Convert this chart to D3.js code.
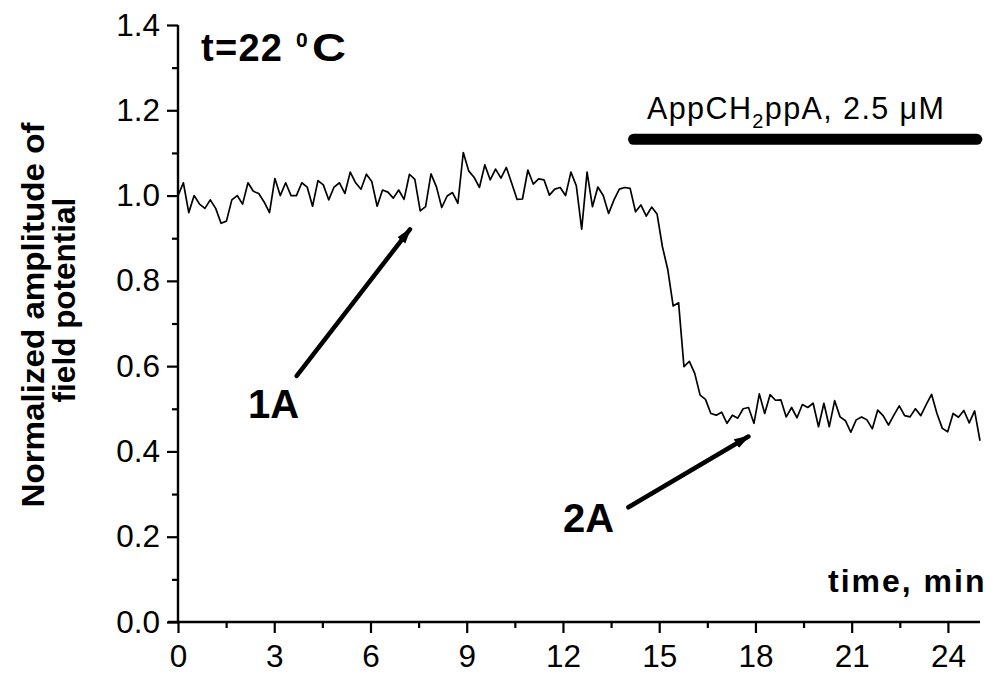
<!DOCTYPE html>
<html>
<head>
<meta charset="utf-8">
<script src="https://cdn.jsdelivr.net/npm/d3@7"></script>
<style>
  html, body { margin: 0; padding: 0; background: #fff; }
  svg { display: block; }
  text { font-family: "Liberation Sans", Arial, Helvetica, sans-serif; fill: #000; }
</style>
</head>
<body>
<svg id="chart" width="996" height="675"></svg>
<script>
// ---- data ----
const timeStart = 0;          // min
const timeEnd = 25;           // min
const amplitude = [
  1.00, 1.03, 0.96, 1.00, 0.98, 0.97, 0.99, 0.97, 0.935, 0.94,
  0.99, 1.00, 0.98, 1.03, 1.01, 1.005, 0.985, 0.96, 1.04, 1.00,
  1.03, 1.00, 1.00, 1.03, 1.02, 0.975, 1.035, 1.025, 0.99, 1.02,
  1.03, 1.005, 1.055, 1.03, 1.015, 1.05, 1.033, 0.975, 1.013, 1.008,
  0.994, 1.013, 0.991, 1.050, 1.038, 0.964, 0.974, 1.051, 1.021, 0.972,
  0.999, 1.007, 0.982, 1.101, 1.058, 1.043, 1.019, 1.072, 1.037, 1.062,
  1.041, 1.066, 1.029, 0.991, 0.992, 1.060, 1.027, 1.039, 1.037, 1.001,
  1.015, 1.019, 1.000, 1.055, 1.023, 0.921, 1.055, 0.974, 1.020, 1.00,
  0.958, 0.99, 1.015, 1.019, 1.017, 0.962, 0.978, 0.952, 0.973, 0.957,
  0.880, 0.826, 0.741, 0.749, 0.599, 0.611, 0.583, 0.532, 0.522, 0.489,
  0.485, 0.492, 0.466, 0.485, 0.478, 0.500, 0.503, 0.466, 0.535, 0.489,
  0.533, 0.520, 0.521, 0.481, 0.503, 0.479, 0.510, 0.503, 0.513, 0.458,
  0.513, 0.458, 0.519, 0.481, 0.472, 0.445, 0.474, 0.481, 0.474, 0.453,
  0.497, 0.484, 0.462, 0.485, 0.507, 0.484, 0.481, 0.500, 0.484, 0.510,
  0.534, 0.489, 0.454, 0.446, 0.489, 0.480, 0.496, 0.467, 0.495, 0.425
];
const xTicks = [0, 3, 6, 9, 12, 15, 18, 21, 24];
const xMinorTicks = [1.5, 4.5, 7.5, 10.5, 13.5, 16.5, 19.5, 22.5];
const yTicks = [0.0, 0.2, 0.4, 0.6, 0.8, 1.0, 1.2, 1.4];
const yMinorTicks = [0.1, 0.3, 0.5, 0.7, 0.9, 1.1, 1.3];
const drugBar = { start: 14.2, end: 24.9, level: 1.132, label: "AppCH", sub: "2", rest: "ppA, 2.5 \u03bcM" };
const arrows = [
  { label: "1A", from: [3.70, 0.577], to: [7.23, 0.921], labelAt: [2.18, 0.478] },
  { label: "2A", from: [14.04, 0.269], to: [17.78, 0.435], labelAt: [12.0, 0.211] }
];

// ---- layout ----
const svg = d3.select("#chart");
const x = d3.scaleLinear().domain([0, 25]).range([178, 980]);
const y = d3.scaleLinear().domain([0, 1.4]).range([622, 25]);
const step = (timeEnd - timeStart) / (amplitude.length - 1);
const series = amplitude.map((v, i) => ({ t: timeStart + i * step, v }));

// axes
const axisStroke = 2.4;
const gx = svg.append("g").attr("transform", `translate(0,${y(0)})`)
  .call(d3.axisBottom(x).tickValues(xTicks).tickSize(11).tickPadding(5).tickFormat(d3.format("d")));
gx.select(".domain").attr("stroke-width", axisStroke).attr("d", `M${x(0) - 10},0H${x(25)}`);
gx.selectAll(".tick line").attr("stroke-width", 2.2);
gx.selectAll(".tick text").attr("font-size", 31.5).attr("dy", "0.92em");
const gxm = svg.append("g").attr("transform", `translate(0,${y(0)})`)
  .call(d3.axisBottom(x).tickValues(xMinorTicks).tickSize(6).tickFormat(""));
gxm.select(".domain").remove();
gxm.selectAll(".tick line").attr("stroke-width", 2.2);

const gy = svg.append("g").attr("transform", `translate(${x(0)},0)`)
  .call(d3.axisLeft(y).tickValues(yTicks).tickSize(11).tickPadding(7).tickFormat(d3.format(".1f")));
gy.select(".domain").attr("stroke-width", axisStroke).attr("d", `M0,${y(0)}V${y(1.4)}`);
gy.selectAll(".tick line").attr("stroke-width", 2.2);
gy.selectAll(".tick text").attr("font-size", 31.5);
const gym = svg.append("g").attr("transform", `translate(${x(0)},0)`)
  .call(d3.axisLeft(y).tickValues(yMinorTicks).tickSize(6).tickFormat(""));
gym.select(".domain").remove();
gym.selectAll(".tick line").attr("stroke-width", 2.2);

// data line
svg.append("path").datum(series)
  .attr("fill", "none").attr("stroke", "#000").attr("stroke-width", 1.7)
  .attr("stroke-linejoin", "round")
  .attr("d", d3.line().x(d => x(d.t)).y(d => y(d.v)));

// drug application bar
svg.append("line")
  .attr("x1", x(drugBar.start)).attr("x2", x(drugBar.end))
  .attr("y1", y(drugBar.level)).attr("y2", y(drugBar.level))
  .attr("stroke", "#000").attr("stroke-width", 11).attr("stroke-linecap", "round");
const dt = svg.append("text").attr("x", 647).attr("y", 119).attr("font-size", 30.5)
  .attr("textLength", 297);
dt.append("tspan").text(drugBar.label);
dt.append("tspan").attr("dy", 9).attr("font-size", 20).text(drugBar.sub);
dt.append("tspan").attr("dy", -9).text(drugBar.rest);

// arrows
const defs = svg.append("defs");
defs.append("marker").attr("id", "head").attr("markerUnits", "userSpaceOnUse")
  .attr("viewBox", "0 -6 16 12").attr("refX", 14).attr("refY", 0)
  .attr("markerWidth", 16).attr("markerHeight", 12).attr("orient", "auto")
  .append("path").attr("d", "M0,-5L16,0L0,5Z").attr("fill", "#000");
arrows.forEach(a => {
  svg.append("line")
    .attr("x1", x(a.from[0])).attr("y1", y(a.from[1]))
    .attr("x2", x(a.to[0])).attr("y2", y(a.to[1]))
    .attr("stroke", "#000").attr("stroke-width", 4.5).attr("stroke-linecap", "round")
    .attr("marker-end", "url(#head)");
  svg.append("text").attr("x", x(a.labelAt[0])).attr("y", y(a.labelAt[1]))
    .attr("font-size", 40).attr("font-weight", "bold").text(a.label);
});

// temperature label
svg.append("text").attr("x", 201).attr("y", 61).attr("font-size", 38)
  .attr("font-weight", "bold").attr("textLength", 81).text("t=22");
svg.append("text").attr("x", 296).attr("y", 47).attr("font-size", 21)
  .attr("font-weight", "bold").text("0");
svg.append("text").attr("x", 312).attr("y", 61).attr("font-size", 38)
  .attr("font-weight", "bold").attr("lengthAdjust", "spacingAndGlyphs").attr("textLength", 34).text("C");

// axis titles
svg.append("text").attr("x", 828).attr("y", 592).attr("font-size", 32)
  .attr("font-weight", "bold").attr("letter-spacing", 2).text("time, min");
svg.append("text").attr("transform", "translate(44,315) rotate(-90)")
  .attr("text-anchor", "middle").attr("font-size", 31.5).attr("font-weight", "bold")
  .attr("textLength", 385).attr("lengthAdjust", "spacingAndGlyphs")
  .text("Normalized amplitude of");
svg.append("text").attr("transform", "translate(75,300) rotate(-90)")
  .attr("text-anchor", "middle").attr("font-size", 31.5).attr("font-weight", "bold")
  .text("field potential");
</script>
</body>
</html>
